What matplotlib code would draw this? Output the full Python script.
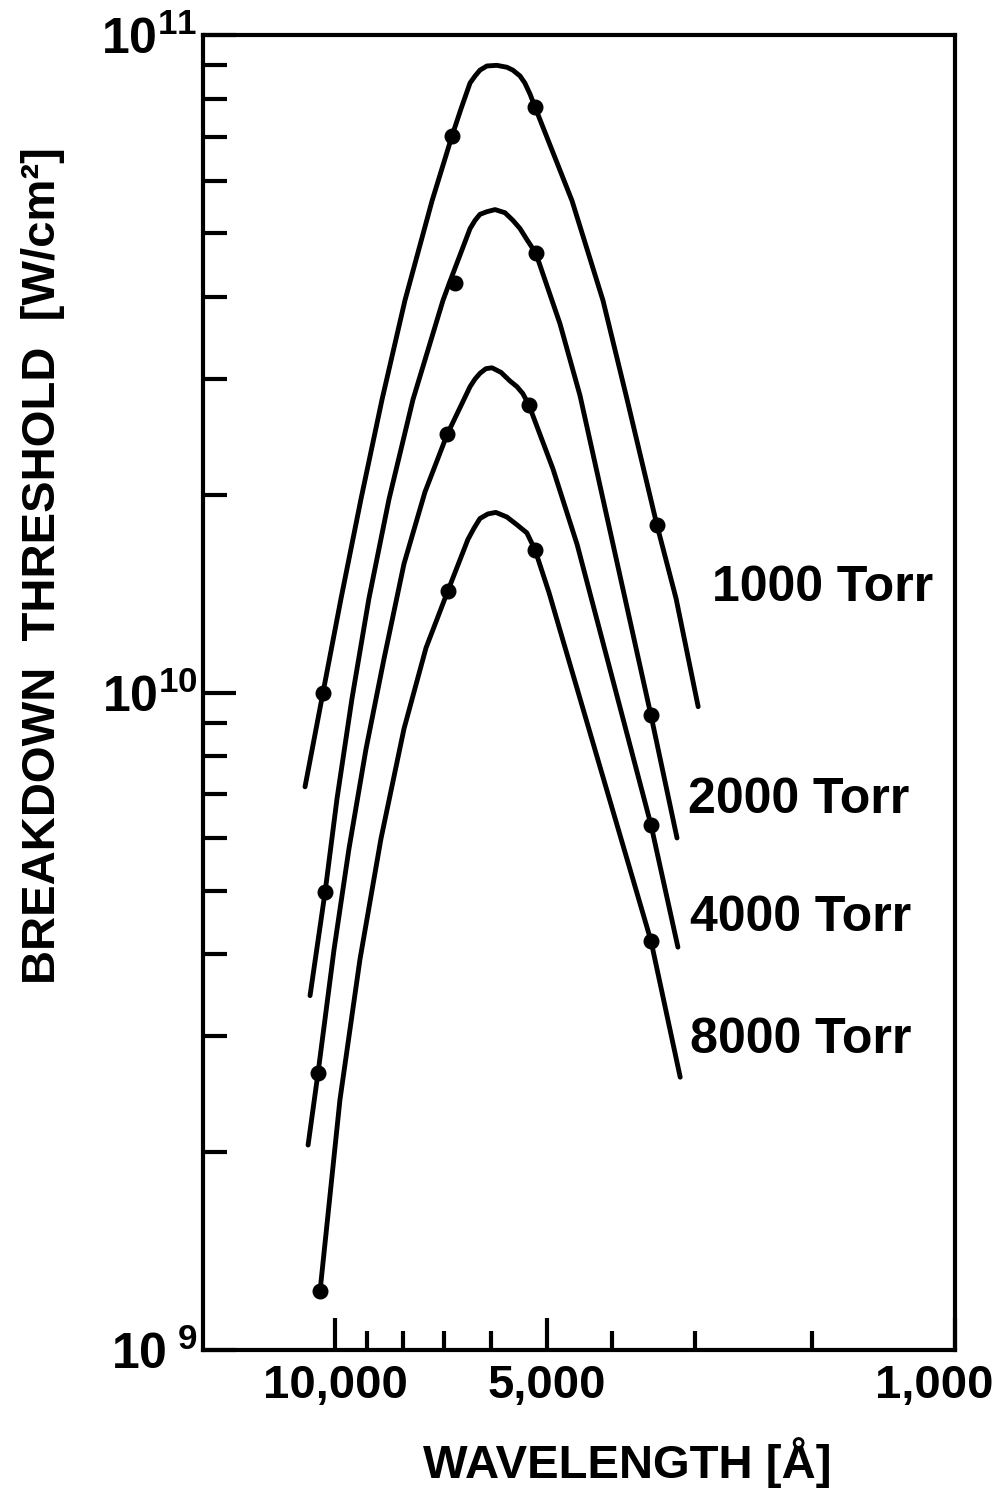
import numpy as np
import matplotlib
matplotlib.use('Agg')
import matplotlib.pyplot as plt
import matplotlib.transforms as mtransforms
from matplotlib.ticker import FixedLocator, LogLocator, NullFormatter

plt.rcParams['font.family'] = ['Liberation Sans', 'DejaVu Sans']
plt.rcParams['font.weight'] = 'bold'
plt.rcParams['mathtext.fontset'] = 'custom'
plt.rcParams['mathtext.rm'] = 'Liberation Sans:bold'
plt.rcParams['mathtext.it'] = 'Liberation Sans:bold'
plt.rcParams['mathtext.bf'] = 'Liberation Sans:bold'

# --- data: breakdown threshold (W/cm^2) vs wavelength (Angstrom) ---
pressures = ['1000 Torr', '2000 Torr', '4000 Torr', '8000 Torr']

# measured points (dots)
dot_wl_1000 = [10400, 6820, 5200, 3420]
dot_thr_1000 = [1.0e10, 7.03e10, 7.78e10, 1.80e10]
dot_wl_2000 = [10330, 6755, 5185, 3490]
dot_thr_2000 = [4.97e9, 4.2e10, 4.66e10, 9.23e9]
dot_wl_4000 = [10570, 6930, 5305, 3490]
dot_thr_4000 = [2.64e9, 2.47e10, 2.74e10, 6.29e9]
dot_wl_8000 = [10500, 6910, 5200, 3490]
dot_thr_8000 = [1.23e9, 1.43e10, 1.65e10, 4.19e9]

# hand drawn curves through the dots
curve_wl_1000 = [11030, 10400, 9805, 9185, 8575, 7955, 7280, 6820, 6625, 6430, 6325,
                 6225, 6085, 5890, 5700, 5590, 5460, 5375, 5285, 5200, 4585, 4120,
                 3790, 3420, 3200, 2965]
curve_thr_1000 = [7.19e9, 1.0e10, 1.39e10, 1.97e10, 2.79e10, 3.95e10, 5.60e10, 7.03e10,
                  7.72e10, 8.46e10, 8.67e10, 8.85e10, 8.98e10, 9.0e10, 8.94e10, 8.85e10,
                  8.67e10, 8.46e10, 8.14e10, 7.78e10, 5.60e10, 3.95e10, 2.79e10, 1.80e10,
                  1.39e10, 9.52e9]
curve_wl_2000 = [10850, 10330, 9935, 9460, 8950, 8380, 7750, 7025, 6890, 6430, 6325,
                 6225, 6085, 5925, 5735, 5590, 5460, 5340, 5185, 4780, 4460, 4120,
                 3490, 3190]
curve_thr_2000 = [3.46e9, 4.97e9, 6.89e9, 9.79e9, 1.39e10, 1.97e10, 2.79e10, 3.95e10,
                  4.18e10, 5.08e10, 5.23e10, 5.34e10, 5.39e10, 5.43e10, 5.37e10, 5.23e10,
                  5.08e10, 4.89e10, 4.66e10, 3.64e10, 2.83e10, 1.97e10, 9.23e9, 6.01e9]
curve_wl_4000 = [10920, 10570, 10030, 9555, 9035, 8520, 7980, 7450, 6930, 6430, 6325,
                 6225, 6105, 5985, 5810, 5645, 5515, 5410, 5305, 4898, 4505, 3490, 3180]
curve_thr_4000 = [2.05e9, 2.64e9, 4.07e9, 5.78e9, 8.21e9, 1.125e10, 1.57e10, 2.02e10,
                  2.47e10, 2.92e10, 3.00e10, 3.06e10, 3.11e10, 3.12e10, 3.07e10, 2.98e10,
                  2.92e10, 2.85e10, 2.74e10, 2.19e10, 1.68e10, 6.29e9, 4.10e9]
curve_wl_8000 = [10570, 10500, 9840, 9215, 8605, 7980, 7425, 6910, 6475, 6345, 6225,
                 6065, 5910, 5700, 5515, 5340, 5200, 4965, 4730, 3490, 3155]
curve_thr_8000 = [1.21e9, 1.23e9, 2.40e9, 3.93e9, 5.99e9, 8.81e9, 1.17e10, 1.43e10,
                  1.71e10, 1.78e10, 1.84e10, 1.87e10, 1.88e10, 1.85e10, 1.80e10, 1.75e10,
                  1.65e10, 1.42e10, 1.20e10, 4.19e9, 2.60e9]

# ticks
x_major = [10000, 5000, 1000]
x_major_labels = ['10,000', '5,000', '1,000']
x_minor = [9000, 8000, 7000, 6000, 4000, 3000, 2000]
y_major = [1e9, 1e10, 1e11]
y_major_labels = ['10$^{\\ 9}$', '10$^{10}$', '10$^{11}$']

curves = [(curve_wl_1000, curve_thr_1000), (curve_wl_2000, curve_thr_2000),
          (curve_wl_4000, curve_thr_4000), (curve_wl_8000, curve_thr_8000)]
dots = [(dot_wl_1000, dot_thr_1000), (dot_wl_2000, dot_thr_2000),
        (dot_wl_4000, dot_thr_4000), (dot_wl_8000, dot_thr_8000)]

# the wavelength axis of the original is a hand drawn log scale whose
# decades are not evenly spaced: map log(wavelength) piecewise onto the axis
knot_wl = np.log10([1000, 2000, 5000, 10000, 15400])
knot_pos = np.array([0.0, 0.19, 0.5426, 0.8245, 1.0])

def fwd(w):
    w = np.clip(np.asarray(w, dtype=float), 1.0, None)
    return np.interp(np.log10(w), knot_wl, knot_pos)

def inv(p):
    return 10 ** np.interp(np.asarray(p, dtype=float), knot_pos, knot_wl)

fig = plt.figure(figsize=(10.08, 14.94), dpi=100)
ax = fig.add_axes([0.2014, 0.0964, 0.746, 0.880])
ax.set_xscale('function', functions=(fwd, inv))
ax.set_yscale('log')

for (w, t) in curves:
    ax.plot(w, t, color='black', lw=3.5, solid_capstyle='round', solid_joinstyle='round')
for (w, t) in dots:
    ax.plot(w, t, 'o', color='black', ms=10.5)

ax.set_xlim(15400, 1000)
ax.set_ylim(1e9, 1e11)

ax.xaxis.set_major_locator(FixedLocator(x_major))
ax.xaxis.set_minor_locator(FixedLocator(x_minor))
ax.set_xticklabels(x_major_labels)
ax.xaxis.set_minor_formatter(NullFormatter())
ax.set_yticks(y_major)
ax.set_yticklabels(y_major_labels)
ax.yaxis.set_minor_locator(LogLocator(base=10, subs=np.arange(2, 10)))
ax.yaxis.set_minor_formatter(NullFormatter())

ax.tick_params(which='both', direction='in', width=3, color='black')
ax.tick_params(axis='x', which='major', length=23, pad=10, labelsize=34)
ax.tick_params(axis='x', which='minor', length=14)
ax.tick_params(axis='y', which='major', length=24, pad=4, labelsize=36)
ax.tick_params(axis='y', which='minor', length=17)
for s in ax.spines.values():
    s.set_linewidth(3)

# the "1,000" label sits a little left of the axis end
lab = ax.xaxis.get_major_ticks()[2].label1
lab.set_transform(lab.get_transform() + mtransforms.ScaledTranslation(-0.21, 0, fig.dpi_scale_trans))

ax.set_xlabel('WAVELENGTH [Å]', fontsize=34, fontweight='bold')
ax.xaxis.set_label_coords(0.564, -0.066)
ax.set_ylabel('BREAKDOWN  THRESHOLD  [W/cm²]', fontsize=34, fontweight='bold')
ax.yaxis.set_label_coords(-0.183, 0.597)

label_pos = [(0.677, 0.5795), (0.645, 0.418), (0.648, 0.3285), (0.648, 0.2357)]
for name, (lx, ly) in zip(pressures, label_pos):
    ax.text(lx, ly, name, transform=ax.transAxes, fontsize=36, fontweight='bold',
            ha='left', va='center')

fig.savefig('out.png', dpi=100)
